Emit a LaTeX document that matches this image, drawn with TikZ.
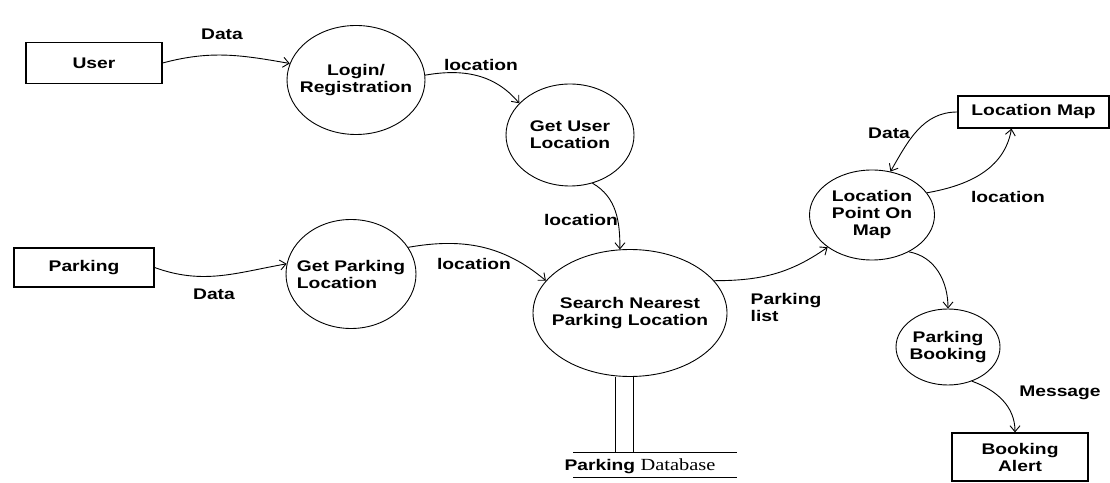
\documentclass[tikz,border=0pt]{standalone}
\usepackage{fontspec}
\newfontfamily\dfdfont{Liberation Sans}[FakeStretch=1.25]
\newfontfamily\dbfont{Liberation Serif}[FakeStretch=1.2]
\usetikzlibrary{shapes.geometric, arrows.meta, positioning}

\begin{document}
\begin{tikzpicture}[x=1pt,y=1pt,line width=0.9pt,
		every node/.style={font=\dfdfont\bfseries\fontsize{15.4}{17}\selectfont},
		proc/.style={draw,ellipse,inner sep=-20pt,align=center},
		ent/.style={draw,rectangle,inner sep=0pt,align=center,line width=1.2pt},
		lbl/.style={inner sep=0pt},
		flow/.style={-{Straight Barb[length=6pt,width=10pt]}}]
	\useasboundingbox (0,0) rectangle (1110,482);
	% external entities and processes
	\node[ent, minimum width=136pt, minimum height=41pt] (user) at (94,419) {User};
	\node[proc, minimum width=138pt, minimum height=109pt] (login) at (356,402) {Login/\\Registration};
	\node[proc, minimum width=128pt, minimum height=102pt] (getuser) at (570,347) {Get User\\Location};
	\node[ent, minimum width=140pt, minimum height=39pt] (parking) at (84,214.5) {Parking};
	\node[proc, minimum width=130pt, minimum height=109pt, align=left] (getpark) at (351,208) {Get Parking\\Location};
	\node[proc, minimum width=194pt, minimum height=127pt] (search) at (630,169) {Search Nearest\\Parking Location};
	\node[proc, minimum width=125pt, minimum height=90pt] (locpoint) at (872,267) {Location\\Point On\\Map};
	\node[ent, minimum width=151pt, minimum height=32pt] (locmap) at (1033.5,370) {Location Map};
	\node[proc, minimum width=104pt, minimum height=76pt] (booking) at (948,135) {Parking\\Booking};
	\node[ent, minimum width=136pt, minimum height=48pt] (alert) at (1020,25) {Booking\\Alert};
	% data store
	\coordinate (dbl) at (573,30);
	\coordinate (dbr) at (737,30);
	\draw (dbl) -- (dbr);
	\draw ([yshift=-25pt]dbl) -- ([yshift=-25pt]dbr);
	\draw ([xshift=-15pt]search.south) -- ([xshift=-15pt]search.south |- dbl);
	\draw ([xshift=3pt]search.south) -- ([xshift=3pt]search.south |- dbl);
	\node[lbl] (db) at (640,16) {Parking {\dbfont\mdseries\fontsize{17}{17}\selectfont Database}};
	% flows
	\draw[flow] (user.east) to[out=15,in=170] (login.166);
	\draw[flow] (login.4) to[out=10,in=130] (getuser.148);
	\draw[flow] (getuser.-65) to[out=-30,in=90] (search.99);
	\draw[flow] (parking.east) to[out=-20,in=190] (getpark.171);
	\draw[flow] (getpark.25) to[out=10,in=140] (search.159);
	\draw[flow] (search.21) to[out=0,in=215] (locpoint.216);
	\draw[flow] (locpoint.22) to[out=10,in=-100] ([xshift=-22pt]locmap.south);
	\draw[flow] (locmap.west) to[out=180,in=60] (locpoint.67);
	\draw[flow] (locpoint.-45) to[out=-10,in=90] (booking.north);
	\draw[flow] (booking.-55) to[out=-20,in=90] ([xshift=-5pt]alert.north);
	% flow labels
	\node[lbl] (dlogin) at (222,448) {Data};
	\node[lbl] (lgetuser) at (481,417) {location};
	\node[lbl] (lsearch) at (581,262) {location};
	\node[lbl] (dgetpark) at (214,188) {Data};
	\node[lbl] (lgetpark) at (474,218) {location};
	\node[lbl, align=left] (plist) at (786,175) {Parking\\list};
	\node[lbl] (lmap) at (1008,285) {location};
	\node[lbl] (dmap) at (889,349) {Data};
	\node[lbl] (msg) at (1060,89) {Message};
\end{tikzpicture}
\end{document}
